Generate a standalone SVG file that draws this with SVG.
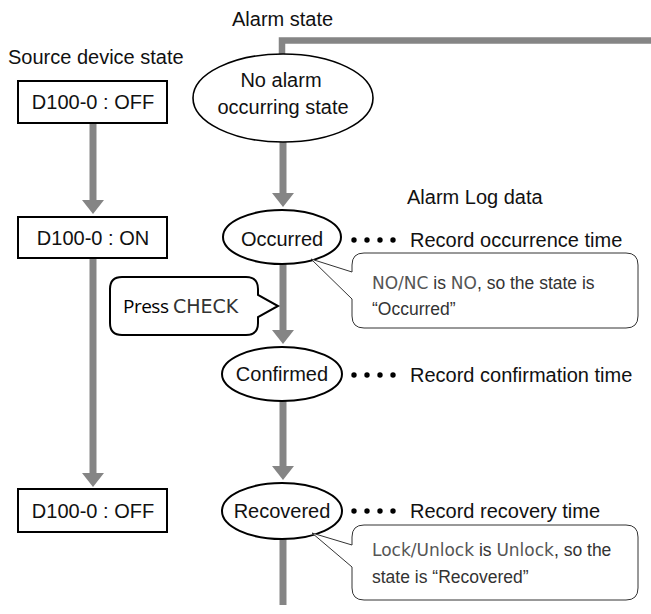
<svg xmlns="http://www.w3.org/2000/svg" width="651" height="614" viewBox="0 0 651 614">
<style>
 .lbl{font-family:"Liberation Sans",Arial,sans-serif;font-size:20px;fill:#111}
 .ctr{text-anchor:middle}
 .node{fill:#fff;stroke:#000;stroke-width:2}
 .flow{stroke:#858585;stroke-width:7;fill:none}
 .head{fill:#858585}
 .call{fill:#fff;stroke:#333;stroke-width:1}
 .ct{font-family:"Liberation Sans",Arial,sans-serif;font-size:17.5px;fill:#333}
 .code{font-family:"DejaVu Sans",Verdana,sans-serif;font-size:17px;fill:#555}
 .press{font-family:"Open Sans","Noto Sans",sans-serif;font-size:19px;fill:#000;letter-spacing:-0.5px}
 .check{font-family:"DejaVu Sans",Verdana,sans-serif;font-size:19px;fill:#333}
 .dot{fill:#000}
</style>
<defs>
 <path id="ah" class="head" d="M-11,0 H11 L0,14 Z"/>
 <g id="dots">
  <circle class="dot" cx="0" cy="0" r="2.7"/>
  <circle class="dot" cx="13" cy="0" r="2.7"/>
  <circle class="dot" cx="26" cy="0" r="2.7"/>
  <circle class="dot" cx="39" cy="0" r="2.7"/>
 </g>
</defs>
<rect width="651" height="614" fill="#fff"/>

<g id="connectors">
 <path class="flow" style="stroke-width:6.5" d="M651,40.5 H282 V60"/>
 <path class="flow" d="M283,140 V194"/>
 <use href="#ah" x="283" y="193"/>
 <path class="flow" d="M283,262 V331"/>
 <use href="#ah" x="283" y="330"/>
 <path class="flow" d="M283,400 V467"/>
 <use href="#ah" x="283" y="466"/>
 <path class="flow" d="M283,538 V605"/>
 <path class="flow" d="M93,122 V201"/>
 <use href="#ah" x="93" y="200"/>
 <path class="flow" d="M93,257 V474"/>
 <use href="#ah" x="93" y="473"/>
</g>

<g id="alarm-state-title"><text class="lbl" x="232" y="26">Alarm state</text></g>
<g id="source-title"><text class="lbl" x="8" y="64">Source device state</text></g>
<g id="log-title"><text class="lbl" x="407" y="204">Alarm Log data</text></g>

<g id="src-off-1">
 <rect class="node" x="18" y="81" width="149" height="42"/>
 <text class="lbl ctr" x="93" y="109">D100-0 : OFF</text>
</g>
<g id="src-on">
 <rect class="node" x="18" y="217" width="149" height="41"/>
 <text class="lbl ctr" x="93" y="245">D100-0 : ON</text>
</g>
<g id="src-off-2">
 <rect class="node" x="18" y="489" width="149" height="43"/>
 <text class="lbl ctr" x="93" y="518">D100-0 : OFF</text>
</g>

<g id="no-alarm">
 <ellipse class="node" style="stroke-width:1.6" cx="283" cy="98" rx="90" ry="44"/>
 <text class="lbl ctr" x="281" y="87">No alarm</text>
 <text class="lbl ctr" x="283" y="114">occurring state</text>
</g>
<g id="occurred">
 <ellipse class="node" cx="282" cy="237" rx="59" ry="27"/>
 <text class="lbl ctr" x="282" y="246">Occurred</text>
</g>
<g id="confirmed">
 <ellipse class="node" cx="282" cy="374" rx="60" ry="27"/>
 <text class="lbl ctr" x="282" y="381">Confirmed</text>
</g>
<g id="recovered">
 <ellipse class="node" cx="282" cy="511" rx="60" ry="28"/>
 <text class="lbl ctr" x="282" y="518">Recovered</text>
</g>

<g id="log-occurrence">
 <use href="#dots" x="354" y="240"/>
 <text class="lbl" x="410" y="247">Record occurrence time</text>
</g>
<g id="log-confirmation">
 <use href="#dots" x="354" y="375"/>
 <text class="lbl" x="410" y="382">Record confirmation time</text>
</g>
<g id="log-recovery">
 <use href="#dots" x="354" y="511"/>
 <text class="lbl" x="410" y="518">Record recovery time</text>
</g>

<g id="press-check">
 <path class="node" d="M122,277 H246 Q258,277 258,289 V295 L278,306 L258,317 V323 Q258,335 246,335 H122 Q110,335 110,323 V289 Q110,277 122,277 Z"/>
 <text x="123" y="313"><tspan class="press">Press</tspan><tspan class="check" x="173">CHECK</tspan></text>
</g>

<g id="callout-occurred">
 <path class="call" d="M364,253 H626 Q638,253 638,265 V316 Q638,328 626,328 H364 Q352,328 352,316 V299 L311,259 L352,272 V265 Q352,253 364,253 Z"/>
 <text x="372" y="289"><tspan class="code">NO/NC</tspan><tspan class="ct"> is </tspan><tspan class="code">NO</tspan><tspan class="ct">, so the state is</tspan></text>
 <text class="ct" x="372" y="315">“Occurred”</text>
</g>
<g id="callout-recovered">
 <path class="call" d="M364,525 H626 Q638,525 638,537 V588 Q638,600 626,600 H364 Q352,600 352,588 V567 L312,533 L352,545 V537 Q352,525 364,525 Z"/>
 <text x="372" y="556"><tspan class="code">Lock/Unlock</tspan><tspan class="ct"> is </tspan><tspan class="code">Unlock</tspan><tspan class="ct">, so the</tspan></text>
 <text class="ct" x="372" y="583">state is “Recovered”</text>
</g>
</svg>
